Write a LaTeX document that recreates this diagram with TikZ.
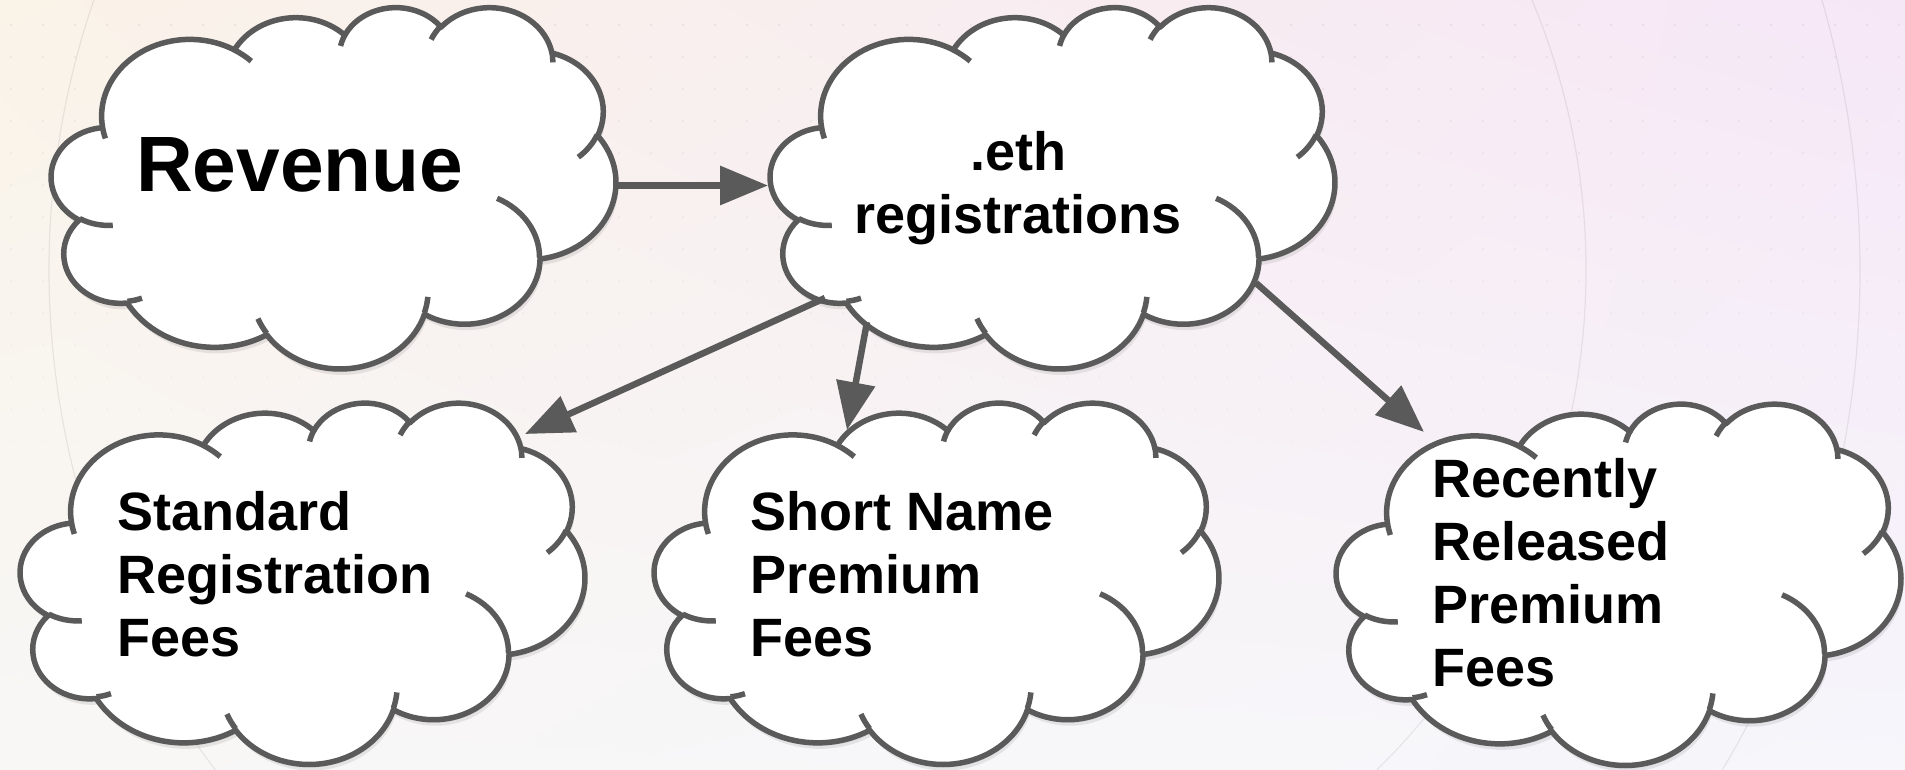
\documentclass[tikz,border=0pt]{standalone}
\usepackage{fontspec}
\setmainfont{Liberation Sans}
\usetikzlibrary{arrows.meta,shadings}
\definecolor{cldline}{HTML}{5A5A5A}
\definecolor{bgA}{HTML}{FAF3E8}
\definecolor{bgB}{HTML}{F6E7F7}
\definecolor{bgC}{HTML}{F8F7F6}
\definecolor{bgD}{HTML}{F6F6FB}

% arc of the OOXML cloud (cloud 564 x 361 px): name, wR, hR, start angle (deg, geometric), sweep (deg)
\newcommand\mkarc[5]{%
  \pgfmathsetmacro\tmpA{#4}%
  \pgfmathsetmacro\tmpB{#4+#5}%
  \pgfmathsetmacro\tmpT{atan2(#2*sin(\tmpA),#3*cos(\tmpA))}%
  \pgfmathsetmacro\tmpU{atan2(#2*sin(\tmpB),#3*cos(\tmpB))}%
  \pgfmathsetmacro\tmpD{\tmpU-\tmpT}%
  \pgfmathsetmacro\tmpD{\tmpD+360*(#5>0)*(\tmpD<0)-360*(#5<0)*(\tmpD>0)}%
  \pgfmathsetmacro\tmpS{-\tmpT}%
  \pgfmathsetmacro\tmpE{-\tmpD}%
  \pgfmathsetmacro\tmpRX{#2*0.01305556}%
  \pgfmathsetmacro\tmpRY{#3*0.00835648}%
  \expandafter\xdef\csname cld#1\endcsname{ arc[start angle=\tmpS, delta angle=\tmpE, x radius=\tmpRX pt, y radius=\tmpRY pt] }%
}
\mkarc{A}{6753}{9190}{-190.48748}{123.78053}
\mkarc{B}{5333}{7267}{-144.10238}{89.94523}
\mkarc{C}{4365}{5945}{-145.80792}{99.72302}
\mkarc{D}{4857}{6595}{-130.98607}{117.24173}
\mkarc{E}{5333}{7273}{-78.70888}{109.02692}
\mkarc{F}{6775}{9220}{-46.26725}{130.26900}
\mkarc{G}{5785}{7867}{0.62502}{114.03333}
\mkarc{H}{6752}{9215}{22.45160}{115.17255}
\mkarc{I}{7720}{10543}{66.24263}{75.71102}
\mkarc{J}{4360}{5918}{-274.94208}{146.73557}
\mkarc{K}{4345}{5945}{-246.82850}{152.51885}
\mkarc{a}{4345}{5945}{86.74200}{26.42950}
\mkarc{b}{4360}{5918}{73.61047}{11.44747}
\mkarc{c}{6752}{9215}{137.62415}{14.08110}
\mkarc{d}{6752}{9215}{6.45327}{15.99835}
\mkarc{e}{5785}{7867}{-70.29235}{70.91737}
\mkarc{f}{5333}{7273}{30.31803}{27.75150}
\mkarc{g}{4857}{6595}{-13.74433}{14.85890}
\mkarc{h}{4857}{6595}{-149.18145}{18.19537}
\mkarc{i}{4365}{5945}{-163.49427}{17.68635}
\mkarc{j}{6753}{9190}{-66.70695}{12.31935}
\mkarc{k}{6753}{9190}{157.65435}{11.85817}
\xdef\cldOut{(9.02778,33.26389)\cldA\cldB\cldC\cldD\cldE\cldF\cldG\cldH\cldI\cldJ\cldK -- cycle}
\xdef\cldIn{(10.86343,60.59491)\clda (16.03704,80.78472)\cldb (38.14352,90.48611)\cldc (66.72917,80.44213)\cldd (79.00231,53.13426)\clde (96.75463,35.54167)\cldf (88.71296,12.56019)\cldg (67.31019,9.14815)\cldh (51.25231,10.92593)\cldi (32.40741,12.01852)\cldj (9.55324,36.54861)\cldk}

\tikzset{
  cloudbody/.style={fill=white, draw=cldline, line width=5.5pt, line join=round},
  cloudinner/.style={draw=cldline, line width=5.5pt},
  cloudshadow/.style={fill=black, opacity=0.08},
  flow/.style={draw=cldline, line width=6.5pt, -{Triangle[length=48pt,width=38pt]}},
  lbl/.style={font=\bfseries\fontsize{54}{63}\selectfont, align=left, inner sep=0pt, text=black},
  faint/.style={draw=black, opacity=0.07, line width=1.2pt}
}
% left, top of the cloud
\newcommand\cloudat[2]{%
  \begin{scope}[shift={(#1,#2)}, x=5.64pt, y=-3.61pt]
    \fill[cloudshadow, xshift=2pt, yshift=-6pt] \cldOut;
    \fill[cloudshadow, xshift=1pt, yshift=-3pt] \cldOut;
    \path[cloudbody] \cldOut;
    \path[cloudinner] \cldIn;
  \end{scope}}

\begin{document}
\begin{tikzpicture}[x=1pt, y=-1pt]
  \useasboundingbox (0,0) rectangle (1905,769);
  \shade[upper left=bgA, upper right=bgB, lower left=bgC, lower right=bgD] (0,0) rectangle (1905,769);
  \foreach \j in {0,...,18} {
    \pgfmathsetmacro\dotop{0.05*(1-\j/19)}
    \foreach \i in {0,...,59}
      \fill[black, opacity=\dotop] (11+32*\i, 25+32*\j) circle[radius=1.4pt];
  }
  \draw[faint] (884,270) ++(199:835) arc[start angle=-199, end angle=-140, radius=835pt];
  \draw[faint] (884,270) ++(-24:702) arc[start angle=24, end angle=-46, radius=702pt];
  \draw[faint] (884,270) ++(-17:976) arc[start angle=17, end angle=-32, radius=976pt];

  \cloudat{51.5}{6.5}
  \cloudat{770.5}{6.5}
  \cloudat{20.5}{402}
  \cloudat{654.5}{402}
  \cloudat{1336.5}{403}

  % multi-line labels: the base anchor is the baseline of the last line
  \node[lbl, anchor=base west, font=\bfseries\fontsize{78.5}{90}\selectfont] (rev) at (136,191) {Revenue};
  \node[lbl, align=center, anchor=base] (eth) at (1018,233) {.eth\\registrations};
  \node[lbl, anchor=base west] (std) at (117,656) {Standard\\Registration\\Fees};
  \node[lbl, anchor=base west] (short) at (750,656) {Short Name\\Premium\\Fees};
  \node[lbl, anchor=base west] (recent) at (1432,686) {Recently\\Released\\Premium\\Fees};

  \coordinate (revOut) at (618,185.5);
  \coordinate (ethIn) at (768,185.5);
  \coordinate (ethOutA) at (825,298);
  \coordinate (stdIn) at (525,434);
  \coordinate (ethOutB) at (867,322);
  \coordinate (shortIn) at (847,430);
  \coordinate (ethOutC) at (1256,283);
  \coordinate (recentIn) at (1424,432);

  \draw[flow] (revOut) -- (ethIn);
  \draw[flow] (ethOutA) -- (stdIn);
  \draw[flow] (ethOutB) -- (shortIn);
  \draw[flow] (ethOutC) -- (recentIn);
\end{tikzpicture}
\end{document}
